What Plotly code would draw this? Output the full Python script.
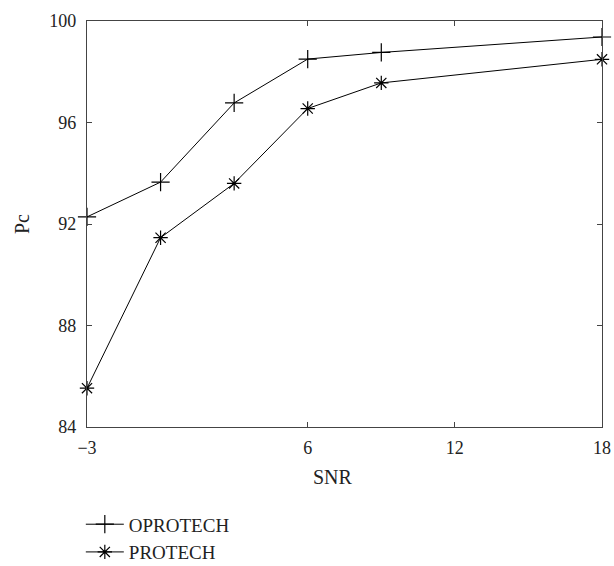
import plotly.graph_objects as go

snr = [-3, 0, 3, 6, 9, 18]
oprotech = [92.28, 93.65, 96.77, 98.5, 98.76, 99.37]
protech = [85.53, 91.46, 93.6, 96.55, 97.56, 98.49]

x_ticks = [-3, 6, 12, 18]
x_ticktext = ["\u22123", "6", "12", "18"]
y_ticks = [84, 88, 92, 96, 100]

FONT = "Liberation Serif"
W, H = 614, 566
L, R, T, B = 87, 12, 21, 139

fig = go.Figure()
fig.add_trace(go.Scatter(
    x=snr, y=oprotech, name="OPROTECH", mode="lines+markers",
    line=dict(color="black", width=1),
    marker=dict(symbol="cross-thin", size=13, color="black",
                line=dict(color="black", width=1.2)),
    cliponaxis=False,
))
fig.add_trace(go.Scatter(
    x=snr, y=protech, name="PROTECH", mode="lines+markers",
    line=dict(color="black", width=1),
    marker=dict(symbol="asterisk", size=12, color="black",
                line=dict(color="black", width=1.2)),
    cliponaxis=False,
))

axis_common = dict(
    showgrid=False, zeroline=False, showline=True, linecolor="#444",
    linewidth=1.2, mirror="ticks", ticks="inside", ticklen=5,
    tickcolor="#444", tickwidth=1, automargin=False,
    tickfont=dict(family=FONT, size=18, color="#222"),
)

fig.update_xaxes(range=[-3, 18], tickvals=x_ticks, ticktext=x_ticktext,
                 ticklabelstandoff=4, **axis_common)
fig.update_yaxes(range=[84, 100], tickvals=y_ticks,
                 ticklabelstandoff=6, **axis_common)

pw = W - L - R
ph = H - T - B
fig.update_layout(
    width=W, height=H,
    margin=dict(l=L, r=R, t=T, b=B, pad=0, autoexpand=False),
    paper_bgcolor="white", plot_bgcolor="white",
    font=dict(family=FONT, size=18, color="#222"),
    showlegend=True,
    legend=dict(x=-0.012, y=-0.193, xanchor="left", yanchor="top",
                bgcolor="rgba(0,0,0,0)", borderwidth=0,
                font=dict(family=FONT, size=19, color="#222"),
                tracegroupgap=0, itemwidth=38),
    annotations=[
        dict(text="SNR", xref="paper", yref="paper",
             x=(333 - L) / pw, y=-(477 - (T + ph)) / ph,
             xanchor="center", yanchor="middle", showarrow=False,
             font=dict(family=FONT, size=20, color="#222")),
        dict(text="Pc", xref="paper", yref="paper",
             x=-(L - 22) / pw, y=0.5, textangle=-90,
             xanchor="center", yanchor="middle", showarrow=False,
             font=dict(family=FONT, size=20, color="#222")),
    ],
)

fig.write_html("out.html",
               config={"displayModeBar": False},
               post_script="document.body.style.margin='0';document.body.style.overflow='hidden';")
